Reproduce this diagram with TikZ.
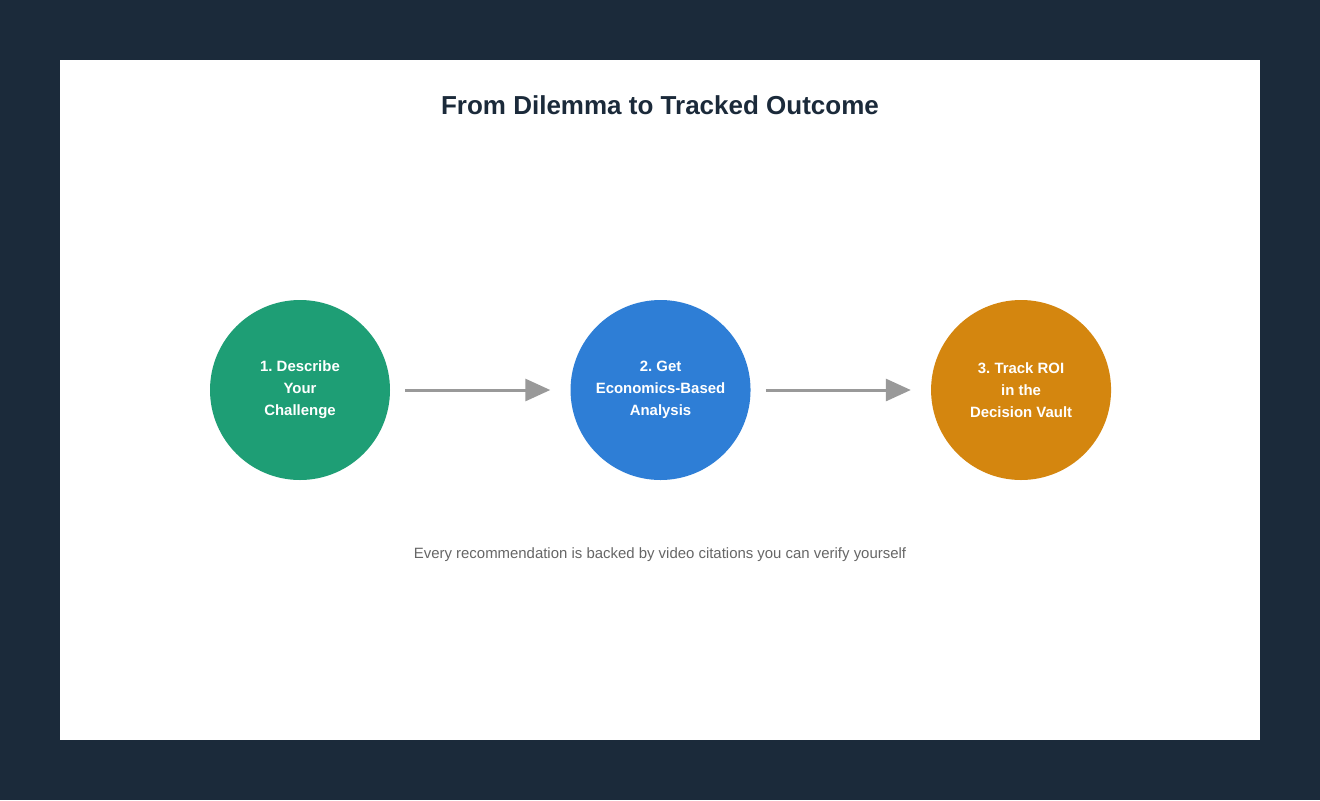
\documentclass[tikz,border=0pt]{standalone}
\usepackage{fontspec}
\setmainfont{Liberation Sans}
\usetikzlibrary{positioning, arrows.meta}
\definecolor{navybg}{HTML}{1B2A3A}
\definecolor{stepgreen}{HTML}{1E9E75}
\definecolor{stepblue}{HTML}{2E7ED6}
\definecolor{steporange}{HTML}{D4860F}
\definecolor{arrowgray}{HTML}{999999}
\definecolor{notegray}{HTML}{666666}
\frenchspacing

\begin{document}
\begin{tikzpicture}[
			x=0.75pt, y=-0.75pt,
			node distance=135pt,
			>={Triangle[length=18.75pt, width=16.5pt]},
			stepcircle/.style={circle, minimum size=135pt, inner sep=0pt, align=center, text=white, font=\fontsize{11.2}{16.5}\selectfont\bfseries, execute at begin node={\vspace*{6pt}}},
			flow/.style={->, draw=arrowgray, fill=arrowgray, line width=2.25pt, shorten <=11.25pt, shorten >=15pt}
		]
		\fill[navybg] (0,0) rectangle (1320,800);
		\useasboundingbox (0,0) rectangle (1320,800);
		\fill[white] (60,60) rectangle (1260,740);

		\node[text=navybg, font=\fontsize{19.5}{23}\selectfont\bfseries] (title) at (660,105) {From Dilemma to Tracked Outcome};

		\node[stepcircle, fill=stepgreen] (describe) at (300,390) {1. Describe\\Your\\Challenge};
		\node[stepcircle, fill=stepblue, right=of describe] (analysis) {2. Get\\Economics-Based\\Analysis};
		\node[stepcircle, fill=steporange, right=of analysis] (vault) {3. Track ROI\\in the\\Decision Vault};

		\draw[flow] (describe) -- (analysis);
		\draw[flow] (analysis) -- (vault);

		\node[text=notegray, font=\fontsize{11.2}{13}\selectfont] (note) at (660,555) {Every recommendation is backed by video citations you can verify yourself};
	\end{tikzpicture}
\end{document}
